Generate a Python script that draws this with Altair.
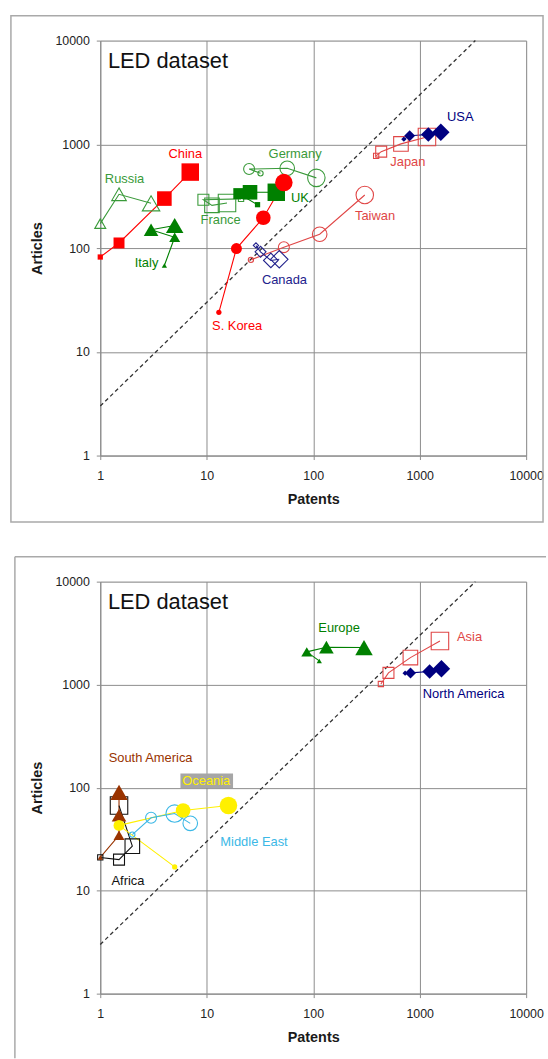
import altair as alt
import pandas as pd

FONT = "Liberation Sans"
GRID = "#8C8C8C"
FRAME = "#A9A9A9"

# ---------------- data: top panel (countries) ----------------
# patents (x) and articles (y), one point per time period
china_pat = [1, 1.5, 4, 7];            china_art = [82, 112, 300, 540]
russia_pat = [1, 1.5, 3];              russia_art = [172, 330, 270]
italy_pat = [4, 5, 3, 5];              italy_art = [68, 127, 150, 165]
france_pat = [21, 9.3, 11.2, 15.5];    france_art = [298, 292, 258, 272]
uk_pat = [30, 20, 25.5, 45];           uk_art = [262, 335, 345, 345]
germany_pat = [32, 25, 57, 107];       germany_art = [525, 578, 588, 475]
korea_pat = [13, 19, 34, 53];          korea_art = [24, 99, 196, 428]
taiwan_pat = [26, 53, 115, 305];       taiwan_art = [77, 102, 136, 325]
canada_pat = [29, 32, 40, 48];         canada_art = [106, 92, 76, 78]
japan_pat = [390, 435, 667, 1170];     japan_art = [775, 850, 1010, 1175]
usa_pat = [710, 805, 1205, 1580];      usa_art = [1120, 1210, 1245, 1305]

periods = [1, 2, 3, 4]
russia_periods = [2, 3, 4]

top_labels = ["China", "Russia", "Italy", "France", "Germany", "UK",
              "S. Korea", "Canada", "Taiwan", "Japan", "USA"]
top_label_pat = [6.3, 1.69, 2.72, 13.5, 67.6, 75, 19.3, 53.7, 381, 774, 2405]
top_label_art = [800, 465, 72, 185, 800, 305, 17.7, 49.4, 202, 679, 1840]

# ---------------- data: bottom panel (regions) ----------------
europe_pat = [114, 87, 133, 300];      europe_art = [1700, 2080, 2310, 2290]
asia_pat = [432, 509, 818, 1550];      asia_art = [1015, 1300, 1830, 2650]
namerica_pat = [730, 820, 1240, 1600]; namerica_art = [1290, 1300, 1340, 1430]
samerica_pat = [1, 1.5, 1.5, 1.5];     samerica_art = [21, 34.5, 54, 90]
africa_pat = [1, 1.5, 2, 1.5];         africa_art = [21, 20, 27, 67]
oceania_pat = [5, 1.5, 6, 16];         oceania_art = [17, 43, 60, 67]
mideast_pat = [2, 3, 5, 7];            mideast_art = [35, 51, 56, 45]
mideast_periods = [1, 2, 4, 3]

bottom_labels = ["Europe", "Asia", "North America", "South America",
                 "Oceania", "Middle East", "Africa"]
bottom_label_pat = [175, 2937, 2585, 2.97, 9.9, 27.8, 1.82]
bottom_label_art = [3557, 2896, 813, 196, 117, 29.8, 12.5]

# reference line articles = 3 x patents
ref_pat = [1, 3333]
ref_art = [3, 10000]

# ---------------- styles ----------------
top_style = {
    "China": ("square", True, "#FF0000"),
    "Russia": ("triangle-up", False, "#3A9A3A"),
    "Italy": ("triangle-up", True, "#008000"),
    "France": ("square", False, "#3A9A3A"),
    "UK": ("square", True, "#008000"),
    "Germany": ("circle", False, "#3A9A3A"),
    "S. Korea": ("circle", True, "#FF0000"),
    "Taiwan": ("circle", False, "#E04646"),
    "Canada": ("diamond", False, "#22228C"),
    "Japan": ("square", False, "#E04646"),
    "USA": ("diamond", True, "#000080"),
}
bottom_style = {
    "Europe": ("triangle-up", True, "#008000"),
    "Asia": ("square", False, "#E04646"),
    "North America": ("diamond", True, "#000080"),
    "South America": ("triangle-up", True, "#993300"),
    "Africa": ("square", False, "#111111"),
    "Oceania": ("circle", True, "#FFF000"),
    "Middle East": ("circle", False, "#3CB8E6"),
}

top_series = [
    ("China", china_pat, china_art, periods),
    ("Russia", russia_pat, russia_art, russia_periods),
    ("Italy", italy_pat, italy_art, periods),
    ("France", france_pat, france_art, periods),
    ("UK", uk_pat, uk_art, periods),
    ("Germany", germany_pat, germany_art, periods),
    ("S. Korea", korea_pat, korea_art, periods),
    ("Taiwan", taiwan_pat, taiwan_art, periods),
    ("Canada", canada_pat, canada_art, periods),
    ("Japan", japan_pat, japan_art, periods),
    ("USA", usa_pat, usa_art, periods),
]
bottom_series = [
    ("Europe", europe_pat, europe_art, periods),
    ("Asia", asia_pat, asia_art, periods),
    ("North America", namerica_pat, namerica_art, periods),
    ("South America", samerica_pat, samerica_art, periods),
    ("Africa", africa_pat, africa_art, periods),
    ("Oceania", oceania_pat, oceania_art, periods),
    ("Middle East", mideast_pat, mideast_art, mideast_periods),
]


def build(series):
    rows = []
    for name, pats, arts, pers in series:
        for i, (p, a, t) in enumerate(zip(pats, arts, pers)):
            rows.append({"series": name, "patents": p, "articles": a,
                         "period": t, "order": i})
    return pd.DataFrame(rows)


def axes():
    ax_x = alt.Axis(title="Patents", values=[1, 10, 100, 1000, 10000], format="d",
                    grid=True, gridColor=GRID, gridWidth=1, domainColor=GRID,
                    tickColor=GRID, tickSize=4, labelFontSize=12.5, labelColor="#222222",
                    labelPadding=10, labelFlush=False, labelOverlap=False,
                    titleFontSize=14.5, titleFontWeight="bold", titleColor="#1a1a1a",
                    titlePadding=11, labelFont=FONT, titleFont=FONT)
    ax_y = alt.Axis(title="Articles", values=[1, 10, 100, 1000, 10000], format="d",
                    grid=True, gridColor=GRID, gridWidth=1, domainColor=GRID,
                    tickColor=GRID, tickSize=4, labelFontSize=12.5, labelColor="#222222",
                    labelPadding=7, labelFlush=False, labelOverlap=False,
                    titleFontSize=14.5, titleFontWeight="bold", titleColor="#1a1a1a",
                    titlePadding=10, labelFont=FONT, titleFont=FONT)
    return ax_x, ax_y


def panel(series, style, labels, lab_pat, lab_art, w, h, frame_layers, bg_layers):
    df = build(series)
    names = list(style.keys())
    colors = [style[n][2] for n in names]
    shapes = [style[n][0] for n in names]
    filled = [n for n in names if style[n][1]]
    opened = [n for n in names if not style[n][1]]

    ax_x, ax_y = axes()
    xs = alt.Scale(type="log", domain=[1, 10000], nice=False)
    ys = alt.Scale(type="log", domain=[1, 10000], nice=False)
    X = alt.X("patents:Q", scale=xs, axis=ax_x)
    Y = alt.Y("articles:Q", scale=ys, axis=ax_y)
    col = alt.Color("series:N", scale=alt.Scale(domain=names, range=colors), legend=None)
    shp = alt.Shape("series:N", scale=alt.Scale(domain=names, range=shapes), legend=None)
    siz = alt.Size("period:Q", scale=alt.Scale(domain=[1, 4], range=[28, 310]), legend=None)

    ref = alt.Chart(pd.DataFrame({"patents": ref_pat, "articles": ref_art})).mark_line(
        color="#333333", strokeDash=[4, 3], strokeWidth=1.3).encode(x=X, y=Y)

    lines = alt.Chart(df).mark_line(strokeWidth=1.1).encode(
        x=X, y=Y, color=col, detail="series:N", order="order:Q")

    pts_open = alt.Chart(df).transform_filter(
        alt.FieldOneOfPredicate(field="series", oneOf=opened)
    ).mark_point(filled=False, opacity=1, strokeWidth=1.1).encode(
        x=X, y=Y, color=col, shape=shp, size=siz)

    pts_fill = alt.Chart(df).transform_filter(
        alt.FieldOneOfPredicate(field="series", oneOf=filled)
    ).mark_point(filled=True, opacity=1).encode(
        x=X, y=Y, color=col, shape=shp, size=siz)

    lab_df = pd.DataFrame({"series": labels, "patents": lab_pat, "articles": lab_art})
    labs = alt.Chart(lab_df).mark_text(fontSize=13, font=FONT, align="center",
                                       baseline="middle").encode(
        x=X, y=Y, text="series:N", color=col)

    led = alt.Chart(pd.DataFrame({"patents": [1.18], "articles": [6300],
                                  "t": ["LED dataset"]})).mark_text(
        fontSize=22, font=FONT, align="left", baseline="middle", color="#111111"
    ).encode(x=X, y=Y, text="t:N")

    extra = [b(X, Y) for b in bg_layers]
    layers = frame_layers + extra + [ref, lines, pts_open, pts_fill, labs, led]
    return alt.layer(*layers).properties(width=w, height=h)


one = pd.DataFrame({"k": [0]})

top_frame = [alt.Chart(one).mark_rect(fillOpacity=0, stroke=FRAME, strokeWidth=1.5).encode(
    x=alt.value(-90), x2=alt.value(446), y=alt.value(-25), y2=alt.value(485))]

bottom_frame = [
    alt.Chart(one).mark_rule(color=FRAME, strokeWidth=1.5).encode(
        x=alt.value(-86), x2=alt.value(449), y=alt.value(-25)),
    alt.Chart(one).mark_rule(color=FRAME, strokeWidth=1.5).encode(
        x=alt.value(-86), y=alt.value(-25), y2=alt.value(480)),
]


def oceania_box(X, Y):
    return alt.Chart(pd.DataFrame({"patents": [10], "articles": [116.5]})).mark_point(
        shape="M-1,-0.274H1V0.274H-1Z", filled=True, opacity=1, color="#A6A6A6",
        size=2809).encode(x=X, y=Y)


top = panel(top_series, top_style, top_labels, top_label_pat, top_label_art,
            429, 418, top_frame, [])
bottom = panel(bottom_series, bottom_style, bottom_labels, bottom_label_pat,
               bottom_label_art, 429, 415, bottom_frame, [oceania_box])

chart = alt.vconcat(top, bottom, spacing=31).resolve_scale(
    color="independent", shape="independent", size="independent"
).properties(
    padding={"left": 9, "top": 10, "right": 0, "bottom": 0}
).configure_view(stroke=GRID).configure(font=FONT)

chart.save("out.html", embed_options={"renderer": "svg", "actions": False})
